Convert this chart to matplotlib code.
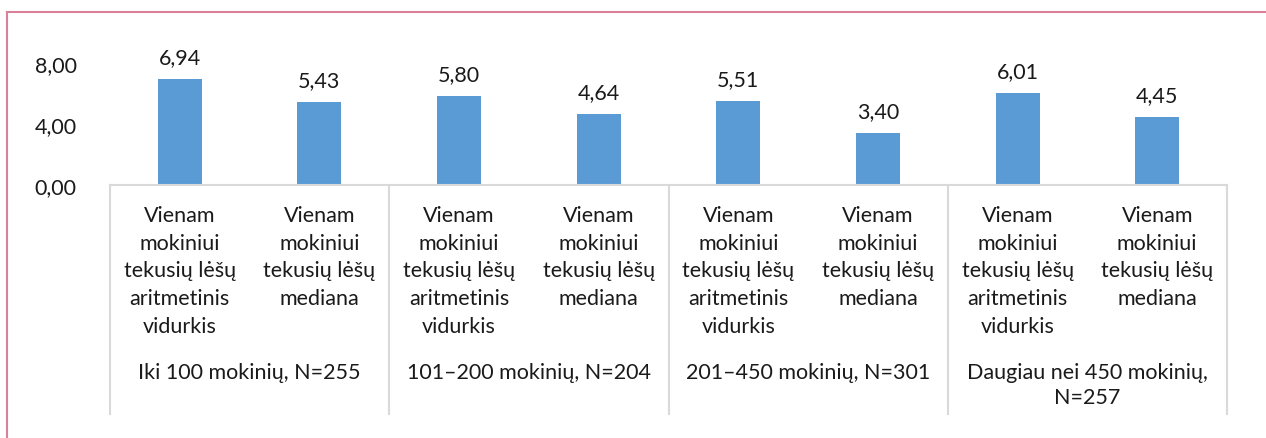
import matplotlib.pyplot as plt
import numpy as np

plt.rcParams['font.family'] = ['Lato', 'DejaVu Sans']

# data
groups = ["Iki 100 mokinių, N=255", "101\u2013200 mokinių, N=204",
          "201\u2013450 mokinių, N=301", "Daugiau nei 450 mokinių,\nN=257"]
categories = ["Vienam\nmokiniui\ntekusių lėšų\naritmetinis\nvidurkis",
              "Vienam\nmokiniui\ntekusių lėšų\nmediana"]
values = [6.94, 5.43, 5.80, 4.64, 5.51, 3.40, 6.01, 4.45]
yticks = [0, 4, 8]

W, H = 1266, 439
fs = 15.5
fig = plt.figure(figsize=(W / 100, H / 100), dpi=100)
ax = fig.add_axes([110 / W, 1 - 186 / H, (1227 - 110) / W, (186 - 41) / H])

n = len(values)
x = np.arange(n)
ax.bar(x, values, width=0.315, color='#5b9bd5')
for xi, v in zip(x, values):
    ax.text(xi, v + 0.8, f"{v:.2f}".replace('.', ','), ha='center', va='bottom',
            fontsize=fs, color='#1a1a1a')

ax.set_xlim(-0.5, n - 0.5)
ax.set_ylim(0, 9.5)
ax.set_yticks(yticks)
ax.set_yticklabels([f"{t:.2f}".replace('.', ',') for t in yticks], fontsize=fs, color='#1a1a1a')
ax.tick_params(axis='y', length=0, pad=24)
ax.set_xticks([])
for s in ['top', 'right', 'left']:
    ax.spines[s].set_visible(False)
ax.spines['bottom'].set_color('#d9d9d9')
ax.spines['bottom'].set_linewidth(1.5)

# category labels and group labels below the axis
trans = ax.get_xaxis_transform()
px = 1 / (186 - 41)  # one pixel in axes-y units
for i in range(n):
    ax.text(x[i], -20 * px, categories[i % 2], transform=trans, ha='center', va='top',
            fontsize=fs, color='#1a1a1a', linespacing=1.48)
for g, name in enumerate(groups):
    ax.text(2 * g + 0.5, -177 * px, name, transform=trans, ha='center', va='top',
            fontsize=fs, color='#1a1a1a', linespacing=1.3)
for b in np.arange(-0.5, n, 2):
    ax.plot([b, b], [0, -229 * px], transform=trans, color='#d9d9d9', lw=1.5, clip_on=False)

# outer chart border (pink)
fig.add_artist(plt.Line2D([6.5 / W, 6.5 / W], [0, 1 - 13 / H], color='#d9819b', lw=1.5))
fig.add_artist(plt.Line2D([6.5 / W, 1], [1 - 13 / H, 1 - 13 / H], color='#d9819b', lw=1.5))

fig.savefig('out.png', dpi=100)
